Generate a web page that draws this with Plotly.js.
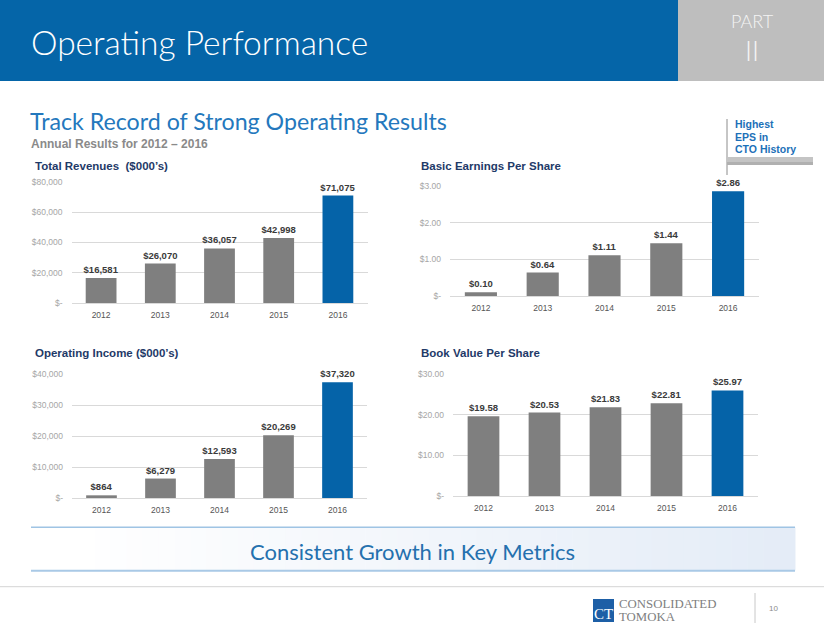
<!DOCTYPE html>
<html>
<head>
<meta charset="utf-8">
<script src="https://cdn.plot.ly/plotly-3.0.1.min.js"></script>
<style>
  html, body { margin: 0; padding: 0; background: #ffffff; }
  #chart { width: 824px; height: 637px; }
</style>
</head>
<body>
<div id="chart"></div>
<script>
// ---------- data ----------
const years = ['2012', '2013', '2014', '2015', '2016'];
const totalRevenues = [16581, 26070, 36057, 42998, 71075];
const basicEPS = [0.10, 0.64, 1.11, 1.44, 2.86];
const operatingIncome = [864, 6279, 12593, 20269, 37320];
const bookValuePerShare = [19.58, 20.53, 21.83, 22.81, 25.97];

const revenueTicks = [0, 20000, 40000, 60000, 80000];
const epsTicks = [0, 1, 2, 3];
const incomeTicks = [0, 10000, 20000, 30000, 40000];
const bookTicks = [0, 10, 20, 30];

// ---------- helpers ----------
const W = 824, H = 637;
const PX = x => x / W;
const PY = y => 1 - y / H;
const GREY = '#7f7f7f';
const BLUE = '#0563a8';
const FONT = 'Liberation Sans, Arial, sans-serif';
const TITLE_FONT = 'Lato, DejaVu Sans, sans-serif';

const thousandsText = v => v === 0 ? '$-' : '$' + v.toLocaleString('en-US');
const perShareText = v => v === 0 ? '$-' : '$' + v.toFixed(2);
const barColors = arr => arr.map((_, i) => i === arr.length - 1 ? BLUE : GREY);

function barTrace(values, axisSuffix, template) {
  return {
    type: 'bar',
    x: years,
    y: values,
    xaxis: 'x' + axisSuffix,
    yaxis: 'y' + axisSuffix,
    marker: { color: barColors(values), line: { width: 0 } },
    texttemplate: template,
    textposition: 'outside',
    constraintext: 'none',
    cliponaxis: false,
    textfont: { family: FONT, size: 9.5, color: '#3a3a3a', weight: 'bold' },
    hoverinfo: 'skip'
  };
}

const data = [
  barTrace(totalRevenues, '', '$%{y:,.0f}'),
  barTrace(basicEPS, '2', '$%{y:.2f}'),
  barTrace(operatingIncome, '3', '$%{y:,.0f}'),
  barTrace(bookValuePerShare, '4', '$%{y:.2f}')
];

function xAxis(x0, x1, anchor) {
  return {
    domain: [PX(x0), PX(x1)],
    anchor: anchor,
    type: 'category',
    range: [-0.5, years.length - 0.5],
    showgrid: false, zeroline: false, showline: false,
    ticks: '',
    ticklabelstandoff: 5,
    tickfont: { family: FONT, size: 8.5, color: '#555555' },
    fixedrange: true
  };
}
function yAxis(y0, y1, anchor, ticks, fmt) {
  return {
    domain: [PY(y1), PY(y0)],
    anchor: anchor,
    range: [0, ticks[ticks.length - 1]],
    tickvals: ticks,
    ticktext: ticks.map(fmt),
    showgrid: true, gridcolor: '#d9d9d9', gridwidth: 1,
    zeroline: true, zerolinecolor: '#d9d9d9', zerolinewidth: 1,
    showline: false,
    ticks: '',
    ticklabelstandoff: 8,
    tickfont: { family: FONT, size: 8.5, color: '#a6a6a6' },
    fixedrange: true
  };
}

// ---------- decorations ----------
const shapes = [];
// header band
shapes.push({ type: 'rect', xref: 'paper', yref: 'paper', x0: 0, x1: PX(678), y0: PY(81), y1: 1,
  fillcolor: '#0565a8', line: { width: 0 }, layer: 'below' });
shapes.push({ type: 'rect', xref: 'paper', yref: 'paper', x0: PX(678), x1: 1, y0: PY(81), y1: 1,
  fillcolor: '#bebebe', line: { width: 0 }, layer: 'below' });

// banner gradient (white -> pale blue)
const steps = 48, bx0 = 31, bx1 = 795;
for (let i = 0; i < steps; i++) {
  const t = i / (steps - 1);
  const k = Math.max(0, (t - 0.05) / 0.95);
  const r = Math.round(255 - (255 - 228) * k);
  const g = Math.round(255 - (255 - 236) * k);
  const b = Math.round(255 - (255 - 247) * k);
  shapes.push({ type: 'rect', xref: 'paper', yref: 'paper',
    x0: PX(bx0 + (bx1 - bx0) * i / steps), x1: PX(bx0 + (bx1 - bx0) * (i + 1) / steps + 0.5),
    y0: PY(570.5), y1: PY(527.5),
    fillcolor: `rgb(${r},${g},${b})`, line: { width: 0 }, layer: 'below' });
}
shapes.push({ type: 'line', xref: 'paper', yref: 'paper', x0: PX(31), x1: PX(795), y0: PY(527.3), y1: PY(527.3),
  line: { color: '#9fc4e4', width: 1.5 } });
shapes.push({ type: 'line', xref: 'paper', yref: 'paper', x0: PX(31), x1: PX(795), y0: PY(570.7), y1: PY(570.7),
  line: { color: '#a9c9e6', width: 2 } });
// footer grey rule
shapes.push({ type: 'line', xref: 'paper', yref: 'paper', x0: 0, x1: 1, y0: PY(586.7), y1: PY(586.7),
  line: { color: '#d4d4d4', width: 1 } });
// footer separator
shapes.push({ type: 'line', xref: 'paper', yref: 'paper', x0: PX(755), x1: PX(755), y0: PY(593), y1: PY(623),
  line: { color: '#c8c8c8', width: 1 } });
// logo square
shapes.push({ type: 'rect', xref: 'paper', yref: 'paper', x0: PX(593), x1: PX(614), y0: PY(622), y1: PY(599),
  fillcolor: '#1d5fa6', line: { width: 0 } });
// "Highest EPS" callout
shapes.push({ type: 'line', xref: 'paper', yref: 'paper', x0: PX(727), x1: PX(727), y0: PY(175), y1: PY(119),
  line: { color: '#8c8c8c', width: 1 } });
shapes.push({ type: 'rect', xref: 'paper', yref: 'paper', x0: PX(727), x1: PX(813), y0: PY(165), y1: PY(157),
  fillcolor: '#c4c4c4', line: { width: 0 } });
shapes.push({ type: 'rect', xref: 'paper', yref: 'paper', x0: PX(727), x1: PX(813), y0: PY(165), y1: PY(162),
  fillcolor: '#b0b0b0', line: { width: 0 } });

function note(text, x, y, size, color, opts) {
  return Object.assign({
    xref: 'paper', yref: 'paper', x: PX(x), y: PY(y),
    xanchor: 'left', yanchor: 'middle', showarrow: false, text: text,
    font: { family: FONT, size: size, color: color }
  }, opts || {});
}

const annotations = [
  note('Operating Performance', 29, 41.5, 33.5, '#ffffff', { font: { family: TITLE_FONT, size: 33.5, color: '#ffffff', weight: 300 } }),
  note('<span style="font-size:18px">PART</span><br><span style="font-size:27px">II</span>', 752.5, 39, 25, '#f4f4f4',
    { xanchor: 'center', align: 'center', font: { family: TITLE_FONT, size: 25, color: '#f4f4f4', weight: 300 } }),
  note('Track Record of Strong Operating Results', 28, 121, 23.2, '#2478bd', { font: { family: TITLE_FONT, size: 23.2, color: '#2478bd' } }),
  note('<b>Annual Results for 2012 – 2016</b>', 29, 144, 12, '#8a8a8a'),
  note('<b>Highest</b>', 733, 124, 10.5, '#1c70b8'),
  note('<b>EPS in</b>', 733, 136.5, 10.5, '#1c70b8'),
  note('<b>CTO History</b>', 733, 149, 10.5, '#1c70b8'),
  note('<b>Total Revenues  ($000’s)</b>', 33, 166, 11.5, '#1f3a68'),
  note('<b>Basic Earnings Per Share</b>', 419, 166, 11.5, '#1f3a68'),
  note('<b>Operating Income ($000’s)</b>', 33, 353, 11.5, '#1f3a68'),
  note('<b>Book Value Per Share</b>', 419, 353, 11.5, '#1f3a68'),
  note('Consistent Growth in Key Metrics', 248, 551, 22, '#2470ae', { font: { family: TITLE_FONT, size: 22, color: '#2470ae' } }),
  note('CT', 603.5, 614, 15, '#ffffff', { xanchor: 'center', font: { family: 'Liberation Serif, DejaVu Serif, serif', size: 15, color: '#ffffff' } }),
  note('CONSOLIDATED', 617, 604, 12.8, '#7f7f7f', { font: { family: 'Liberation Serif, DejaVu Serif, serif', size: 12.8, color: '#808080' } }),
  note('TOMOKA', 617, 617, 12.8, '#7f7f7f', { font: { family: 'Liberation Serif, DejaVu Serif, serif', size: 12.8, color: '#808080' } }),
  note('10', 767, 608, 8, '#8c8c8c')
];

const layout = {
  width: W, height: H,
  margin: { l: 0, r: 0, t: 0, b: 0, pad: 0 },
  paper_bgcolor: '#ffffff',
  plot_bgcolor: 'rgba(0,0,0,0)',
  showlegend: false,
  bargap: 0.48,
  xaxis: xAxis(71.5, 367.5, 'y'),
  yaxis: yAxis(182, 303, 'x', revenueTicks, thousandsText),
  xaxis2: xAxis(450, 759, 'y2'),
  yaxis2: yAxis(186, 296, 'x2', epsTicks, perShareText),
  xaxis3: xAxis(72, 367, 'y3'),
  yaxis3: yAxis(374, 498, 'x3', incomeTicks, thousandsText),
  xaxis4: xAxis(453, 758, 'y4'),
  yaxis4: yAxis(374, 496, 'x4', bookTicks, perShareText),
  shapes: shapes,
  annotations: annotations
};

Plotly.newPlot('chart', data, layout, { staticPlot: true, displayModeBar: false });
</script>
</body>
</html>
